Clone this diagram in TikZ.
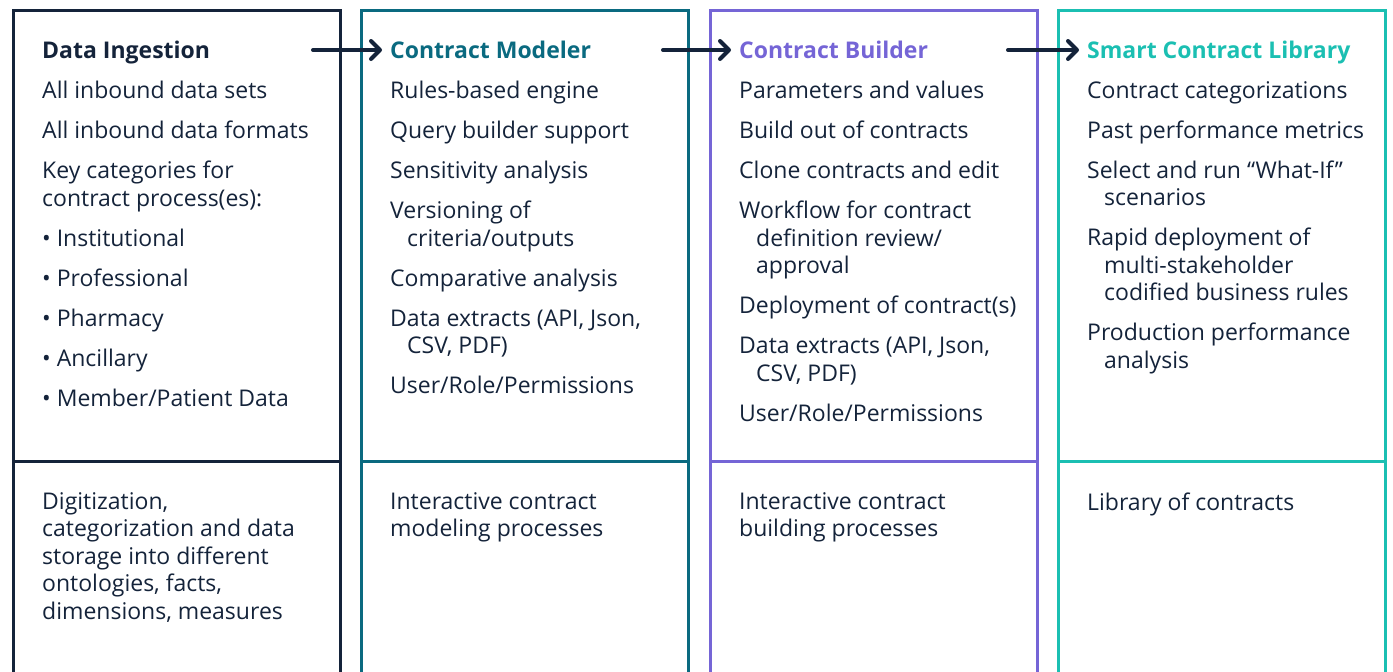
\documentclass[tikz,border=0pt]{standalone}
\usepackage{fontspec}
\setmainfont{Open Sans}
\usetikzlibrary{positioning,calc,arrows.meta}

\definecolor{ink}{HTML}{14233A}
\definecolor{teal}{HTML}{0A6A80}
\definecolor{violet}{HTML}{7565D6}
\definecolor{aqua}{HTML}{1BBFB2}

\tikzset{
  frame/.style={draw=#1, line width=3pt, inner sep=0pt, outer sep=0pt,
    minimum width=327pt, minimum height=680pt, anchor=north west},
  divider/.style={draw=#1, line width=3pt},
  head/.style={text=#1, font=\bfseries\fontsize{23}{27.6}\selectfont,
    inner sep=0pt, anchor=base west},
  body/.style={text=ink, font=\fontsize{23}{27.6}\selectfont, align=left,
    inner sep=0pt, anchor=north west,
    execute at begin node={\rule{0pt}{18pt}}},
  flow/.style={draw=ink, line width=4pt, line cap=round,
    -{Straight Barb[round, length=9pt, width=18pt]}}
}
\newcommand{\cont}{\hspace*{17pt}}

\begin{document}
\begin{tikzpicture}[x=1pt, y=-1pt]
          \useasboundingbox (0,0) rectangle (1393,672);%
          \clip (0,0) rectangle (1393,672);%
          % frames
          \node [frame=ink] (ingestbox) at (13, 10) {};%
          \node [frame=teal] (modelerbox) at (361.5, 10) {};%
          \node [frame=violet] (builderbox) at (710, 10) {};%
          \node [frame=aqua] (librarybox) at (1058.5, 10) {};%
          \draw [divider=ink] (ingestbox.west |- 0, 461) -- (ingestbox.east |- 0, 461);%
          \draw [divider=teal] (modelerbox.west |- 0, 461) -- (modelerbox.east |- 0, 461);%
          \draw [divider=violet] (builderbox.west |- 0, 461) -- (builderbox.east |- 0, 461);%
          \draw [divider=aqua] (librarybox.west |- 0, 461) -- (librarybox.east |- 0, 461);%
          % titles
          \node [head=ink] (ingest) at (42, 58) {Data Ingestion};%
          \node [head=teal] (modeler) at (390, 58) {Contract Modeler};%
          \node [head=violet] (builder) at (739, 58) {Contract Builder};%
          \node [head=aqua] (library) at (1087, 58) {Smart Contract Library};%
          % upper lists
          \node [body] (ingestlist) at (42, 81) {%
            All inbound data sets\\[12.4pt]%
            All inbound data formats\\[12.4pt]%
            Key categories for\\contract process(es):\\[12.4pt]%
            \textbullet\ Institutional\\[12.4pt]%
            \textbullet\ Professional\\[12.4pt]%
            \textbullet\ Pharmacy\\[12.4pt]%
            \textbullet\ Ancillary\\[12.4pt]%
            \textbullet\ Member/Patient Data};%
          \node [body] (modelerlist) at (390, 81) {%
            Rules-based engine\\[12.4pt]%
            Query builder support\\[12.4pt]%
            Sensitivity analysis\\[12.4pt]%
            Versioning of\\\cont criteria/outputs\\[12.4pt]%
            Comparative analysis\\[12.4pt]%
            Data extracts (API, Json,\\\cont CSV, PDF)\\[12.4pt]%
            User/Role/Permissions};%
          \node [body] (builderlist) at (739, 81) {%
            Parameters and values\\[12.4pt]%
            Build out of contracts\\[12.4pt]%
            Clone contracts and edit\\[12.4pt]%
            Workflow for contract\\\cont definition review/\\\cont approval\\[12.4pt]%
            Deployment of contract(s)\\[12.4pt]%
            Data extracts (API, Json,\\\cont CSV, PDF)\\[12.4pt]%
            User/Role/Permissions};%
          \node [body] (librarylist) at (1087, 81) {%
            Contract categorizations\\[12.4pt]%
            Past performance metrics\\[12.4pt]%
            Select and run “What-If”\\\cont scenarios\\[12.4pt]%
            Rapid deployment of\\\cont multi-stakeholder\\\cont codified business rules\\[12.4pt]%
            Production performance\\\cont analysis};%
          % lower notes
          \node [body] (ingestnote) at (42, 492) {Digitization,\\categorization and data\\storage into different\\ontologies, facts,\\dimensions, measures};%
          \node [body] (modelernote) at (390, 492) {Interactive contract\\modeling processes};%
          \node [body] (buildernote) at (739, 492) {Interactive contract\\building processes};%
          \node [body] (librarynote) at (1087, 492) {Library of contracts};%
          % flow between stages
          \coordinate (out1) at (313, 50);%
          \coordinate (out2) at (663, 50);%
          \coordinate (out3) at (1008, 50);%
          \draw [flow, shorten >=8pt] (out1) -- (out1 -| modeler.west);%
          \draw [flow, shorten >=8pt] (out2) -- (out2 -| builder.west);%
          \draw [flow, shorten >=8pt] (out3) -- (out3 -| library.west);%
        \end{tikzpicture}
\end{document}
